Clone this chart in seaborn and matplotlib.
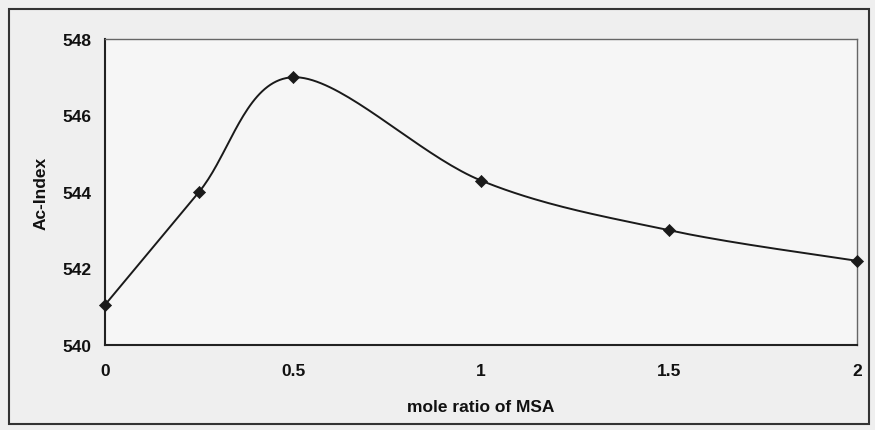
import numpy as np
import pandas as pd
import seaborn as sns
import matplotlib.pyplot as plt
from matplotlib.patches import Rectangle

# data
mole_ratio = [0, 0.25, 0.5, 1.0, 1.5, 2.0]
ac_index = [541.05, 544.0, 547.0, 544.3, 543.0, 542.2]


def catmull_rom(xs, ys, n=40):
    # Excel-like smoothed line through the points
    px = np.array(xs, float)
    py = np.array(ys, float)
    # work in normalized units so the smoothing looks like in screen space
    sx = (px - 0) / 2.0
    sy = (py - 540) / 8.0 * (306 / 752)
    pts = np.column_stack([sx, sy])
    pts = np.vstack([pts[0], pts, pts[-1]])
    out = []
    for i in range(1, len(pts) - 2):
        p0, p1, p2, p3 = pts[i - 1], pts[i], pts[i + 1], pts[i + 2]
        t = np.linspace(0, 1, n)[:, None]
        seg = 0.5 * ((2 * p1) + (-p0 + p2) * t + (2 * p0 - 5 * p1 + 4 * p2 - p3) * t ** 2
                     + (-p0 + 3 * p1 - 3 * p2 + p3) * t ** 3)
        out.append(seg)
    out = np.vstack(out)
    return out[:, 0] * 2.0, 540 + out[:, 1] / (306 / 752) * 8.0


cx, cy = catmull_rom(mole_ratio, ac_index)
curve = pd.DataFrame({'x': cx, 'y': cy})
pts = pd.DataFrame({'x': mole_ratio, 'y': ac_index})

sns.set_style('white')
plt.rcParams['font.family'] = ['Liberation Sans', 'DejaVu Sans']
txt = '#111111'

fig = plt.figure(figsize=(8.75, 4.31), dpi=100, facecolor='#efefef')
ax = fig.add_axes([105 / 875, 1 - 346 / 431, 752 / 875, 306 / 431])
ax.set_facecolor('#f6f6f6')

ax.plot(curve['x'], curve['y'], color='#1a1a1a', lw=1.4, zorder=2)
sns.scatterplot(data=pts, x='x', y='y', marker='D', s=38, color='#1a1a1a',
                edgecolor='#1a1a1a', ax=ax, zorder=3, clip_on=False)

ax.set_xlim(0, 2)
ax.set_ylim(540, 548)
ax.set_xticks([0, 0.5, 1, 1.5, 2])
ax.set_xticklabels(['0', '0.5', '1', '1.5', '2'])
ax.set_yticks([540, 542, 544, 546, 548])
ax.tick_params(axis='both', direction='out', length=5, width=1.2, colors='#222222',
               labelcolor=txt, labelsize=12.5, pad=5)
ax.tick_params(axis='x', length=4, pad=9)
for lab in ax.get_xticklabels() + ax.get_yticklabels():
    lab.set_fontweight('bold')

for side in ['left', 'bottom']:
    ax.spines[side].set_color('#222222')
    ax.spines[side].set_linewidth(1.5)
for side in ['top', 'right']:
    ax.spines[side].set_color('#666666')
    ax.spines[side].set_linewidth(1.0)

ax.set_xlabel('mole ratio of MSA', fontsize=12.5, fontweight='bold', color=txt, labelpad=15)
ax.set_ylabel('Ac-Index', fontsize=12.5, fontweight='bold', color=txt, labelpad=10)

# outer chart border
fig.patches.append(Rectangle((9 / 875, 6 / 431), 860 / 875, 415 / 431,
                             transform=fig.transFigure, fill=False,
                             edgecolor='#333333', lw=1.5))

fig.savefig('out.png', dpi=100, facecolor=fig.get_facecolor())
